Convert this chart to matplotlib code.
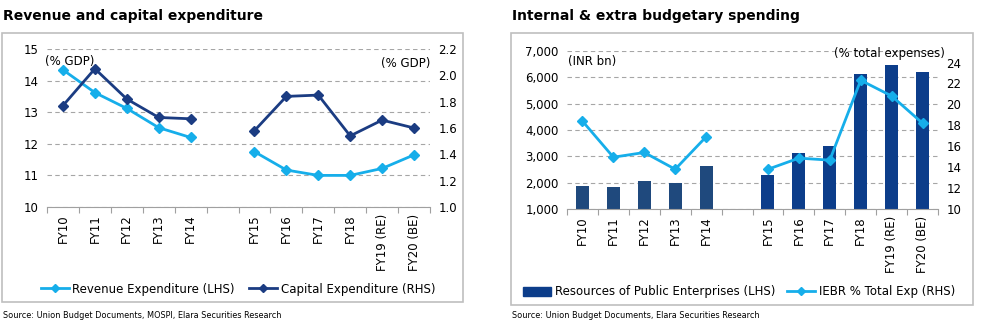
import numpy as np
import matplotlib
matplotlib.use("Agg")
import matplotlib.pyplot as plt
from matplotlib.patches import Rectangle
from matplotlib.lines import Line2D

plt.rcParams['font.family'] = ['DejaVu Sans']

# 数据（空字符串为断档）
years = ['FY10', 'FY11', 'FY12', 'FY13', 'FY14', '',
         'FY15', 'FY16', 'FY17', 'FY18', 'FY19 (RE)', 'FY20 (BE)']
nan = np.nan
revenue_exp = [14.34, 13.62, 13.12, 12.51, 12.2, nan,
               11.75, 11.17, 11.0, 11.0, 11.22, 11.65]
capital_exp = [1.77, 2.05, 1.82, 1.68, 1.67, nan,
               1.58, 1.84, 1.85, 1.54, 1.66, 1.60]
pe_resources = [1890, 1820, 2050, 1970, 2650, nan,
                2300, 3140, 3410, 6130, 6470, 6210]
iebr_pct = [18.4, 14.95, 15.4, 13.8, 16.9, nan,
            13.8, 14.86, 14.67, 22.3, 20.8, 18.2]

LIGHT = '#16AEEA'
NAVY = '#1B3C82'
BAR_OLD = '#1F497D'
BAR_NEW = '#0C3D8A'
GRID = '#A6A6A6'
AXIS = '#A0A0A0'

W, H = 989, 328
fig = plt.figure(figsize=(W / 100, H / 100), dpi=100)

def fx(px):
    return px / W

def fy(py):
    return 1 - py / H

def panel(x0, y0, x1, y1):
    fig.patches.append(Rectangle((fx(x0), fy(y1)), fx(x1 - x0), (y1 - y0) / H,
                                 transform=fig.transFigure, fill=False,
                                 edgecolor='#BFBFBF', linewidth=1.2))

def style_axes(ax, n):
    x = np.arange(n)
    ax.set_xlim(-0.5, n - 0.5)
    ax.set_xticks(x)
    ax.set_xticklabels(years, rotation=90, fontsize=8.5)
    ax.set_xticks(np.arange(n + 1) - 0.5, minor=True)
    ax.tick_params(axis='x', which='major', length=0, pad=5)
    ax.tick_params(axis='x', which='minor', length=4, color=AXIS, width=0.8)
    ax.tick_params(axis='y', length=0, labelsize=8.5, pad=6)
    for s in ['top', 'left', 'right']:
        ax.spines[s].set_visible(False)
    ax.spines['bottom'].set_color(AXIS)
    ax.spines['bottom'].set_linewidth(0.8)
    ax.yaxis.grid(True, linestyle=(0, (4, 3)), color=GRID, linewidth=0.8)
    ax.set_axisbelow(True)

n = len(years)
x = np.arange(n)

# 左图：收入与资本支出
panel(2, 33, 463, 302)
fig.text(fx(3), fy(16), 'Revenue and capital expenditure', fontsize=10,
         fontweight='bold', va='center', ha='left')
ax1 = fig.add_axes([fx(47), fy(207), fx(430 - 47), (207 - 49) / H])
style_axes(ax1, n)
ax1.set_ylim(10, 15)
ax1.set_yticks(range(10, 16))
ax1.plot(x, revenue_exp, color=LIGHT, lw=2, marker='D', ms=5.5)
ax1b = ax1.twinx()
ax1b.set_ylim(1.0, 2.2)
ax1b.set_yticks(np.arange(1.0, 2.21, 0.2))
ax1b.set_yticklabels([f'{v:.1f}' for v in np.arange(1.0, 2.21, 0.2)])
ax1b.tick_params(axis='y', length=0, labelsize=8.5, pad=6)
for s in ax1b.spines.values():
    s.set_visible(False)
ax1b.plot(x, capital_exp, color=NAVY, lw=2, marker='D', ms=5.5)
fig.text(fx(45), fy(61), '(% GDP)', fontsize=8.5, va='center', ha='left')
fig.text(fx(430), fy(63), '(% GDP)', fontsize=8.5, va='center', ha='right')

h1 = [Line2D([], [], color=LIGHT, lw=2, marker='D', ms=4),
      Line2D([], [], color=NAVY, lw=2, marker='D', ms=4)]
fig.legend(h1, ['Revenue Expenditure (LHS)', 'Capital Expenditure (RHS)'],
           loc='center', bbox_to_anchor=(fx(238), fy(289)), ncol=2, frameon=False,
           fontsize=8.5, handlelength=2.4, handletextpad=0.3, columnspacing=1.2)
fig.text(fx(3), fy(316), 'Source: Union Budget Documents, MOSPI, Elara Securities Research',
         fontsize=5.9, va='center', ha='left')

# 右图：内部及预算外资源
panel(511, 33, 973, 305)
fig.text(fx(512), fy(16), 'Internal & extra budgetary spending', fontsize=10,
         fontweight='bold', va='center', ha='left')
ax2 = fig.add_axes([fx(567), fy(209), fx(938 - 567), (209 - 51) / H])
style_axes(ax2, n)
ax2.set_ylim(1000, 7000)
ax2.set_yticks(range(1000, 7001, 1000))
ax2.set_yticklabels([f'{v:,}' for v in range(1000, 7001, 1000)])
bar_colors = [BAR_OLD] * 6 + [BAR_NEW] * 6
ax2.bar(x, pe_resources, width=0.42, color=bar_colors, zorder=2)
ax2b = ax2.twinx()
ax2b.set_ylim(10, 25.1)
ax2b.set_yticks(range(10, 25, 2))
ax2b.tick_params(axis='y', length=0, labelsize=8.5, pad=6)
for s in ax2b.spines.values():
    s.set_visible(False)
ax2b.plot(x, iebr_pct, color=LIGHT, lw=2, marker='D', ms=5.5)
fig.text(fx(568), fy(62), '(INR bn)', fontsize=8.5, va='center', ha='left')
fig.text(fx(945), fy(53), '(% total expenses)', fontsize=8.5, va='center', ha='right')

h2 = [Rectangle((0, 0), 1, 1, color=BAR_NEW),
      Line2D([], [], color=LIGHT, lw=2, marker='D', ms=4)]
fig.legend(h2, ['Resources of Public Enterprises (LHS)', 'IEBR % Total Exp (RHS)'],
           loc='center', bbox_to_anchor=(fx(739), fy(292)), ncol=2, frameon=False,
           fontsize=8.5, handlelength=2.4, handletextpad=0.3, columnspacing=1.0)
fig.text(fx(512), fy(316), 'Source: Union Budget Documents, Elara Securities Research',
         fontsize=5.9, va='center', ha='left')

fig.savefig('out.png', dpi=100)
